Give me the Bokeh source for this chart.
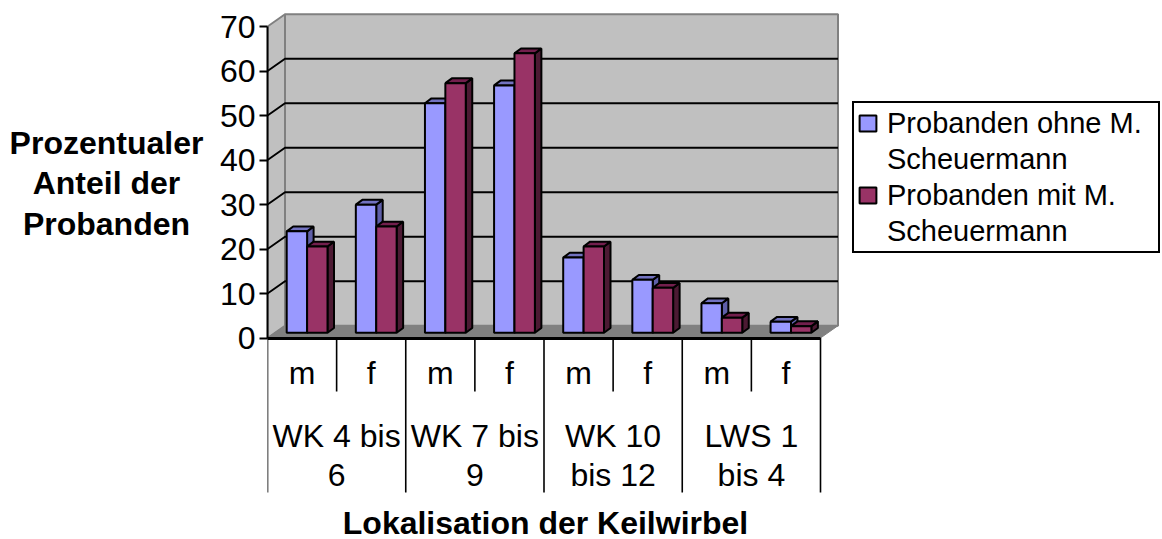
from bokeh.embed import file_html
from bokeh.resources import INLINE
from bokeh.plotting import figure
from bokeh.models import FixedTicker, Label, Legend, LegendItem, Range1d
from bokeh.core.properties import value

sex_labels = ["m", "f", "m", "f", "m", "f", "m", "f"]
group_labels = ["WK 4 bis\n6", "WK 7 bis\n9", "WK 10\nbis 12", "LWS 1\nbis 4"]
series_names = [["Probanden ohne M.", "Scheuermann"], ["Probanden mit M.", "Scheuermann"]]
ohne = [22.8, 28.8, 51.6, 55.6, 16.9, 11.9, 6.65, 2.5]
mit = [19.4, 23.9, 56.1, 62.8, 19.4, 10.1, 3.4, 1.5]
y_ticks = [0, 10, 20, 30, 40, 50, 60, 70]
y_title = "Prozentualer\nAnteil der\nProbanden"
x_title = "Lokalisation der Keilwirbel"

FONT = "Liberation Sans"
W, H = 1162, 539
LEFT, FRAME_W, FRAME_H = 267, 895, 495
CAT_PX, UNIT_PX, ZERO_PX = 69.125, 4.45, 337.5

def xd(px):
    return (px - LEFT) / CAT_PX

def yd(px):
    return (ZERO_PX - px) / UNIT_PX

n = len(ohne)
DX, DY = 17.5 / CAT_PX, 12.3 / UNIT_PX
BAR_DX, BAR_DY = 6.5 / CAT_PX, 4.8 / UNIT_PX
BAR_START, BAR_W = 19.2 / CAT_PX, 20.4 / CAT_PX
BASE = 5.2 / UNIT_PX

p = figure(frame_width=FRAME_W, frame_height=FRAME_H, min_border_left=LEFT, min_border_top=0,
           min_border_right=0, min_border_bottom=H - FRAME_H, output_backend="svg", toolbar_location=None,
           x_range=Range1d(0, xd(LEFT + FRAME_W)), y_range=Range1d(yd(FRAME_H), yd(0)))
p.styles = {"position": "absolute", "left": "0", "top": "0"}
p.outline_line_color = None
p.xgrid.visible = False
p.ygrid.visible = False

# walls and floor
top = y_ticks[-1]
WALL, FLOOR, EDGE = "#C0C0C0", "#808080", "#808080"
p.patch([DX, n + DX, n + DX, DX], [DY, DY, top + DY, top + DY], fill_color=WALL, line_color=EDGE, line_width=2)
p.patch([0, DX, DX, 0], [0, DY, top + DY, top], fill_color=WALL, line_color=EDGE, line_width=2)
p.patch([0, DX, n + DX, n], [0, DY, DY, 0], fill_color=FLOOR, line_color=EDGE, line_width=1)

# gridlines on the back and left wall
for t in y_ticks[1:-1]:
    p.line([0, DX, n + DX], [t, t + DY, t + DY], line_color="black", line_width=2)

def draw_bars(vals, offset, front, side, roof):
    for i, v in enumerate(vals):
        x0 = i + BAR_START + offset * BAR_W
        x1 = x0 + BAR_W
        t = v + BASE
        p.patch([x1, x1 + BAR_DX, x1 + BAR_DX, x1], [BASE, BASE + BAR_DY, t + BAR_DY, t],
                fill_color=side, line_color="black", line_width=2)
        p.patch([x0, x0 + BAR_DX, x1 + BAR_DX, x1], [t, t + BAR_DY, t + BAR_DY, t],
                fill_color=roof, line_color="black", line_width=2)
    return p.vbar(x=[i + BAR_START + (offset + 0.5) * BAR_W for i in range(n)], width=BAR_W,
                  bottom=BASE, top=[v + BASE for v in vals],
                  fill_color=front, line_color="black", line_width=2)

r1 = draw_bars(ohne, 0, "#9999FF", "#5F5FA8", "#7272C0")
r2 = draw_bars(mit, 1, "#993366", "#4C1A33", "#731F4D")

# category separators
for i in range(n + 1):
    bottom_px = 492 if i % 2 == 0 else 391
    p.line([i, i], [0, yd(bottom_px)], line_color="black", line_width=1.6)

# axes
ya = p.yaxis[0]
ya.bounds = (0, top)
ya.ticker = FixedTicker(ticks=y_ticks)
ya.axis_line_color = "black"
ya.axis_line_width = 2
ya.major_tick_line_color = "black"
ya.major_tick_line_width = 2
ya.major_tick_out = 8
ya.major_tick_in = 0
ya.minor_tick_line_color = None
ya.major_label_standoff = 4
ya.major_label_text_font = FONT
ya.major_label_text_font_size = "32px"
ya.major_label_text_color = "black"

xa = p.xaxis[0]
xa.fixed_location = 0
xa.bounds = (0, n)
xa.ticker = FixedTicker(ticks=[])
xa.axis_line_color = "black"
xa.axis_line_width = 3
xa.major_tick_line_color = None
xa.minor_tick_line_color = None

# axis titles
p.add_layout(Label(x=xd(106), y=yd(183), text=y_title, text_align="center", text_baseline="middle",
                   text_font=FONT, text_font_style="bold", text_font_size="32px", text_color="black",
                   text_line_height=1.13), "left")
p.add_layout(Label(x=xd(545), y=yd(522), text=x_title, text_align="center", text_baseline="middle",
                   text_font=FONT, text_font_style="bold", text_font_size="32px", text_color="black"), "below")

# category labels
centres = [i + 0.5 for i in range(n)]
p.text(x=centres, y=[yd(372)] * n, text=sex_labels, text_align="center", text_baseline="middle",
       text_font=value(FONT), text_font_size="32px", text_color="black")
p.text(x=[1, 3, 5, 7], y=[yd(455)] * 4, text=group_labels, text_align="center", text_baseline="middle",
       text_font=value(FONT), text_font_size="32px", text_color="black", text_line_height=1.11)

legend = Legend(items=[LegendItem(label=series_names[0][0], renderers=[r1]),
                       LegendItem(label=series_names[0][1], renderers=[]),
                       LegendItem(label=series_names[1][0], renderers=[r2]),
                       LegendItem(label=series_names[1][1], renderers=[])],
                location=(852 - LEFT, FRAME_H - 253), orientation="vertical", margin=0, padding=3, spacing=2,
                label_text_font=FONT, label_text_font_size="29px", label_text_color="black", label_standoff=9,
                label_height=34, label_width=268, glyph_width=21, glyph_height=20, border_line_color="black",
                border_line_alpha=1, border_line_width=2, background_fill_color="white", background_fill_alpha=1)
p.add_layout(legend)

open("out.html", "w").write(file_html(p, INLINE))
